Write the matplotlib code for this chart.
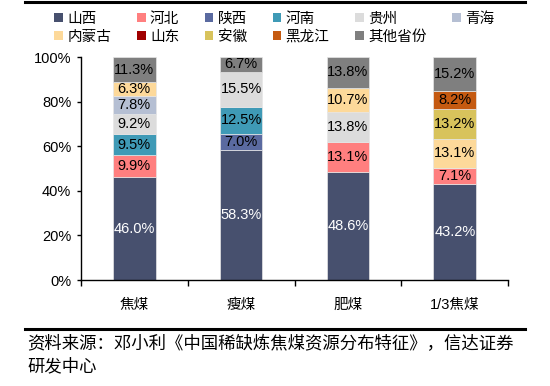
import matplotlib
matplotlib.use("Agg")
import matplotlib.pyplot as plt
import numpy as np
from matplotlib.patches import Patch
from matplotlib.lines import Line2D

plt.rcParams["font.family"] = ["Liberation Sans", "Noto Sans CJK SC"]

categories = ["焦煤", "瘦煤", "肥煤", "1/3焦煤"]
provinces = ["山西", "河北", "陕西", "河南", "贵州", "青海",
             "内蒙古", "山东", "安徽", "黑龙江", "其他省份"]

# share (%) of each province per coal type, order as in provinces
shanxi = [46.0, 58.3, 48.6, 43.2]
hebei = [9.9, 0, 13.1, 7.1]
shaanxi = [0, 7.0, 0, 0]
henan = [9.5, 12.5, 0, 0]
guizhou = [9.2, 15.5, 13.8, 0]
qinghai = [7.8, 0, 0, 0]
neimenggu = [6.3, 0, 10.7, 13.1]
shandong = [0, 0, 0, 0]
anhui = [0, 0, 0, 13.2]
heilongjiang = [0, 0, 0, 8.2]
others = [11.3, 6.7, 13.8, 15.2]

series = [shanxi, hebei, shaanxi, henan, guizhou, qinghai,
          neimenggu, shandong, anhui, heilongjiang, others]
colors = ["#47506E", "#FF7F7F", "#5A6AA0", "#3F9AB6", "#DCDCDC", "#B5BFD3",
          "#FDD99A", "#A00000", "#D8C35C", "#C55A11", "#7F7F7F"]

fig = plt.figure(figsize=(5.5, 3.86), dpi=100)
ax = fig.add_axes([0.147, 0.2746, 0.777, 0.5777])

x = np.arange(len(categories))
bottom = np.zeros(len(categories))
for name, vals, c in zip(provinces, series, colors):
    vals = np.array(vals, dtype=float)
    ax.bar(x, vals, 0.4, bottom=bottom, color=c, edgecolor="#E6E6E6",
           linewidth=0.5, label=name)
    for xi, v, b in zip(x, vals, bottom):
        if v > 0:
            ax.text(xi, b + v / 2, f"{v:.1f}%", ha="center", va="center",
                    fontsize=10.5, color="white" if name == "山西" else "black")
    bottom += vals

ax.set_xlim(-0.5, len(categories) - 0.5)
ax.set_ylim(0, 100)
ax.set_yticks(np.arange(0, 101, 20))
ax.set_yticklabels([f"{v}%" for v in range(0, 101, 20)], fontsize=10.5)
ax.set_xticks(x)
ax.set_xticklabels(categories, fontsize=10.5)
ax.set_xticks(np.arange(-0.5, len(categories)), minor=True)
ax.tick_params(axis="x", which="major", length=0, pad=13)
ax.tick_params(axis="x", which="minor", length=4, direction="out", width=1)
ax.tick_params(axis="y", length=3, direction="out", width=1, pad=4)
for s in ["top", "right"]:
    ax.spines[s].set_visible(False)
for s in ["left", "bottom"]:
    ax.spines[s].set_linewidth(1)
    ax.spines[s].set_color("black")

# legend fills column-wise; reorder so it reads row by row
order = [0, 6, 1, 7, 2, 8, 3, 9, 4, 10, 5]
handles = [Patch(facecolor=colors[i], edgecolor="none") for i in order]
labels = [provinces[i] for i in order]
fig.legend(handles, labels, ncol=6, loc="upper left",
           bbox_to_anchor=(0.088, 0.985), frameon=False, fontsize=10.5,
           handlelength=0.6, handleheight=0.6, handletextpad=0.3,
           columnspacing=1.75, labelspacing=0.3, borderaxespad=0)

fig.add_artist(Line2D([0.045, 0.955], [0.994, 0.994], color="black", lw=2.2,
                      transform=fig.transFigure))
fig.add_artist(Line2D([0.045, 0.955], [0.148, 0.148], color="black", lw=2.2,
                      transform=fig.transFigure))
fig.text(0.05, 0.108, "资料来源：邓小利《中国稀缺炼焦煤资源分布特征》，信达证券",
         fontsize=12.5, style="italic", va="center",
         family=["Noto Sans CJK SC", "DejaVu Sans"])
fig.text(0.05, 0.052, "研发中心", fontsize=12.5, style="italic", va="center",
         family=["Noto Sans CJK SC", "DejaVu Sans"])

fig.savefig("out.png", dpi=100)
